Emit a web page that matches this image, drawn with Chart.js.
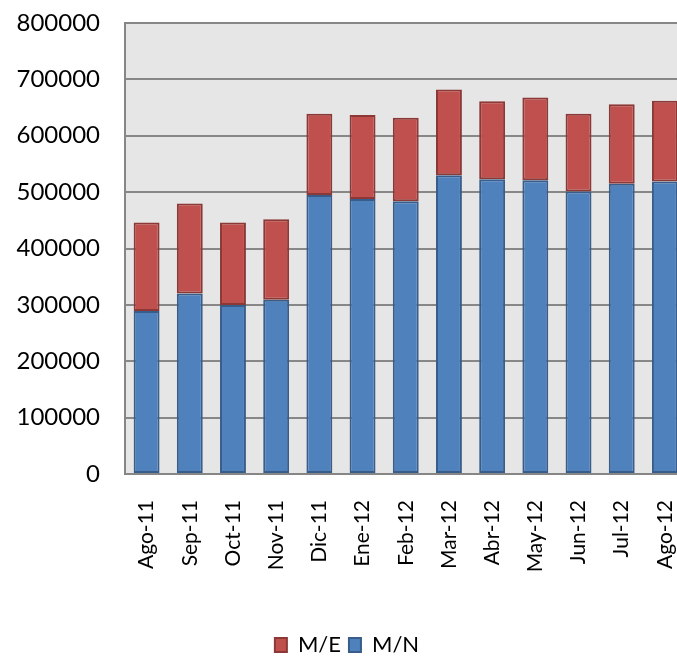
<!DOCTYPE html>
<html>
<head>
<meta charset="utf-8">
<script src="https://cdn.jsdelivr.net/npm/chart.js@4/dist/chart.umd.min.js"></script>
<style>
  html, body { margin: 0; padding: 0; background: #fff; overflow: hidden; }
  #wrap { width: 717px; height: 656px; }
</style>
</head>
<body>
<div id="wrap"><canvas id="canva"></canvas></div>
<script>
const months = ["Ago-11", "Sep-11", "Oct-11", "Nov-11", "Dic-11", "Ene-12", "Feb-12",
  "Mar-12", "Abr-12", "May-12", "Jun-12", "Jul-12", "Ago-12"];
const mnValues = [289000, 320000, 300000, 309000, 495000, 488000, 484000,
  530000, 523000, 521000, 501000, 515000, 519000];
const meValues = [157000, 160000, 146000, 143000, 144000, 149000, 148000,
  152000, 138000, 147000, 138000, 141000, 143000];

const plotBg = {
  id: "plotBg",
  beforeDraw(chart) {
    const { ctx, chartArea: a } = chart;
    ctx.save();
    ctx.fillStyle = "#e6e6e6";
    ctx.fillRect(a.left, a.top, a.right - a.left, a.bottom - a.top);
    ctx.restore();
  },
};

const canvas = document.getElementById("canva");
const ctx = canvas.getContext("2d");

Chart.defaults.font.family = "Lato, 'Open Sans', sans-serif";
Chart.defaults.color = "#000";

let myChart = new Chart(ctx, {
  type: "bar",
  data: {
    labels: months,
    datasets: [
      {
        label: "M/N",
        data: mnValues,
        backgroundColor: "#4f81bd",
        borderColor: "#385d8a",
        borderWidth: 2,
        borderSkipped: false,
      },
      {
        label: "M/E",
        data: meValues,
        backgroundColor: "#c0504d",
        borderColor: "#8c3836",
        borderWidth: 2,
        borderSkipped: false,
      },
    ],
  },
  options: {
    responsive: true,
    maintainAspectRatio: false,
    animation: false,
    datasets: { bar: { barPercentage: 0.6, categoryPercentage: 1 } },
    layout: { padding: { top: 23, right: 23, left: 0, bottom: -10 } },
    plugins: {
      tooltip: { enabled: false },
      legend: {
        position: "bottom",
        reverse: true,
        labels: {
          font: { size: 22 },
          boxWidth: 12,
          boxHeight: 14,
          padding: 8,
        },
      },
    },
    scales: {
      x: {
        stacked: true,
        grid: { display: false, drawTicks: false },
        border: { color: "#868686", width: 2 },
        ticks: { font: { size: 21 }, minRotation: 90, maxRotation: 90, padding: 26 },
        afterFit(scale) { scale.height = 152; },
      },
      y: {
        stacked: true,
        min: 0,
        max: 800000,
        ticks: {
          stepSize: 100000,
          font: { size: 24 },
          padding: 25,
          callback: (v) => String(v),
        },
        grid: { color: "#878787", lineWidth: 2, drawTicks: false },
        border: { color: "#868686", width: 2 },
        afterFit(scale) {
          scale.width = 125;
          scale.paddingTop = 0;
          scale.paddingBottom = 0;
        },
      },
    },
  },
  plugins: [plotBg],
});
</script>
</body>
</html>
